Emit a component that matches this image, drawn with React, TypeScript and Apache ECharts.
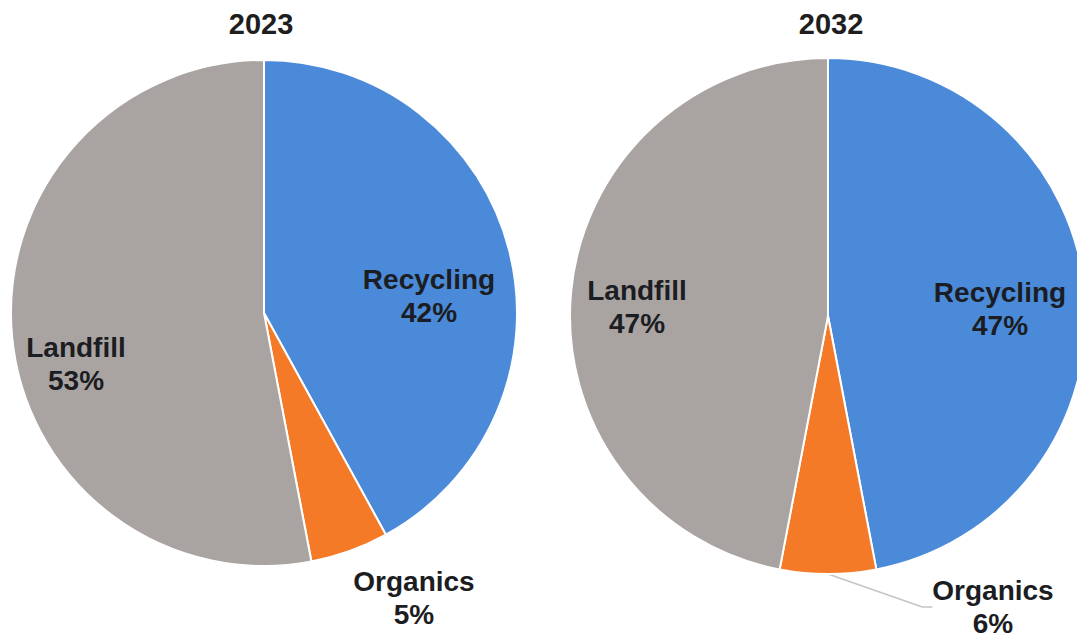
import React, { useEffect, useRef } from "react";
import * as echarts from "echarts";

const years = ["2023", "2032"];
const categories = ["Recycling", "Organics", "Landfill"];
const share2023 = [42, 5, 53];
const share2032 = [47, 6, 47];
const colors = ["#4A8AD9", "#F57A27", "#A9A3A1"];

// layout (not data)
const centers = [[264, 313], [828, 316]];
const radii = [253, 258];
const titleX = [256, 826];
const labelPos = [
  [[429, 296], [414, 598], [76, 364]],
  [[1000, 309], [993, 607], [637, 307]],
];

export default function App() {
  const ref = useRef<HTMLDivElement>(null);
  useEffect(() => {
    const chart = echarts.init(ref.current!, null, { renderer: "svg" });
    const seriesData = [share2023, share2032];
    const font = "'Liberation Sans', Arial, sans-serif";
    chart.setOption({
      animation: false,
      backgroundColor: "#ffffff",
      title: years.map((y, i) => ({
        text: y,
        left: titleX[i],
        top: 4,
        textAlign: "center",
        textStyle: { fontFamily: font, fontSize: 29, fontWeight: "bold", color: "#1e1e1e" },
      })),
      series: seriesData.map((vals, si) => ({
        type: "pie",
        center: centers[si],
        radius: radii[si],
        startAngle: 90,
        clockwise: true,
        silent: true,
        avoidLabelOverlap: false,
        emphasis: { disabled: true },
        itemStyle: { borderColor: "#ffffff", borderWidth: 2 },
        label: {
          show: true,
          position: "inside",
          formatter: "{b}\n{c}%",
          fontFamily: font,
          fontSize: 28,
          fontWeight: "bold",
          lineHeight: 33,
          color: "#1b1d22",
          align: "center",
        },
        labelLine: { show: false },
        labelLayout: (p: any) => ({
          x: labelPos[si][p.dataIndex][0],
          y: labelPos[si][p.dataIndex][1],
          align: "center",
          verticalAlign: "middle",
        }),
        data: categories.map((c, i) => ({
          name: c,
          value: vals[i],
          itemStyle: { color: colors[i] },
          label: { position: i === 1 ? "outside" : "inside" },
          labelLine:
            si === 1 && i === 1
              ? { show: true, length: 10, length2: 10, lineStyle: { color: "#c4c4c4", width: 1.5 } }
              : { show: false },
        })),
      })),
    });
    return () => chart.dispose();
  }, []);
  return (
    <div
      ref={ref}
      style={{ position: "absolute", left: 0, top: 0, width: 1077, height: 639, background: "#fff" }}
    />
  );
}
